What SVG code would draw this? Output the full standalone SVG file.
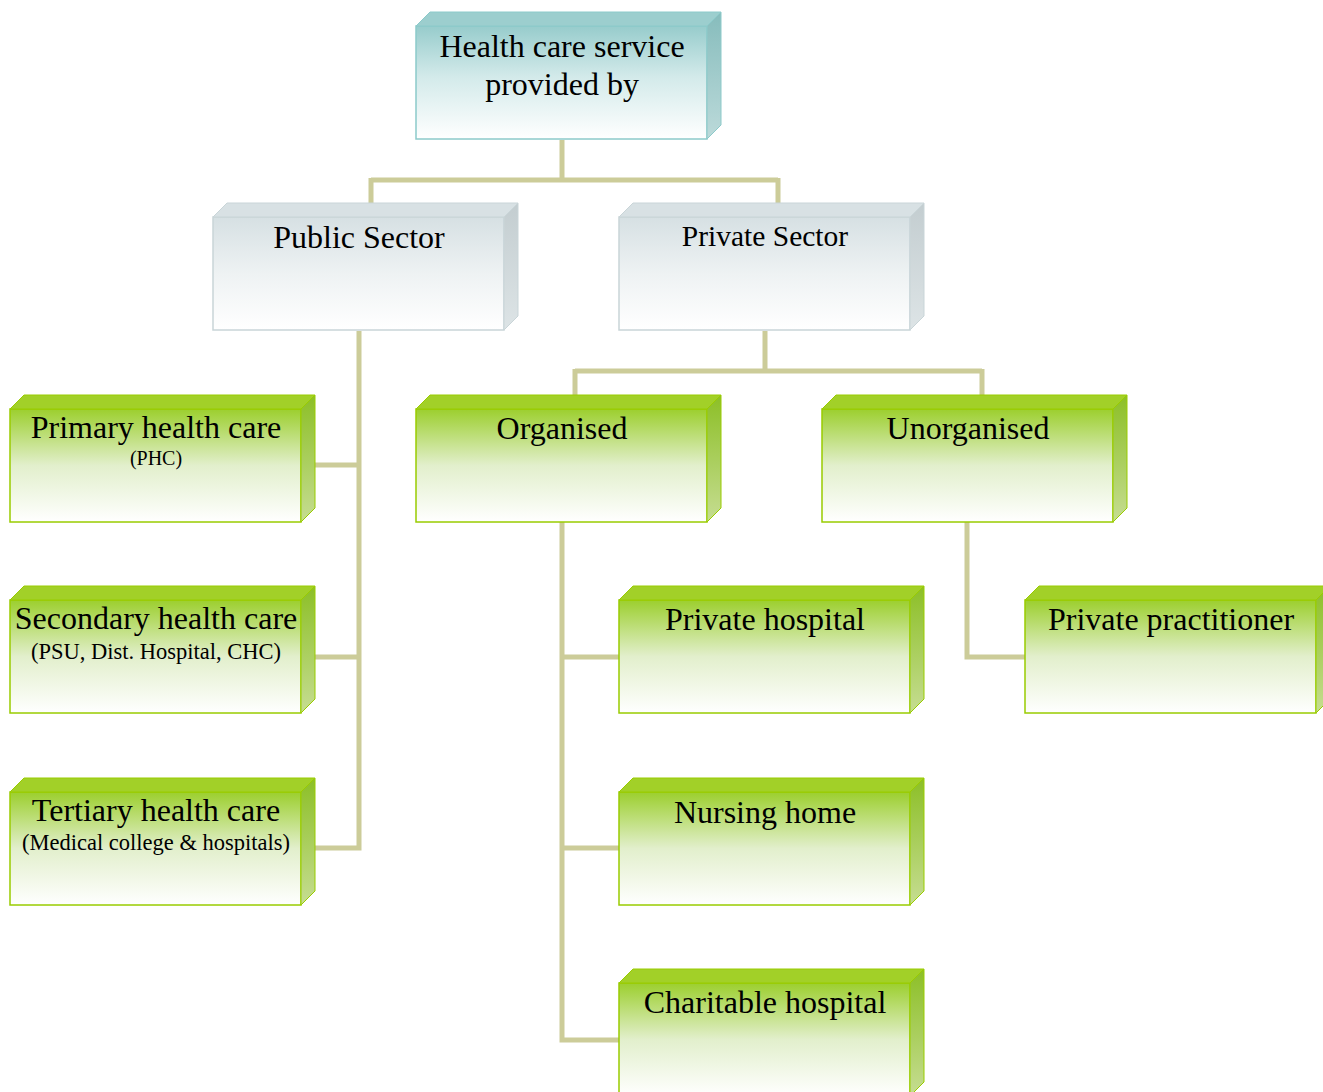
<svg xmlns="http://www.w3.org/2000/svg" width="1323" height="1092" viewBox="0 0 1323 1092">
  <defs>
    <!-- teal palette (root) -->
    <linearGradient id="tealFront" x1="0" y1="0" x2="0" y2="1">
      <stop offset="0" stop-color="#97cccc"/>
      <stop offset="0.45" stop-color="#d3eaea"/>
      <stop offset="1" stop-color="#ffffff"/>
    </linearGradient>
    <linearGradient id="tealSide" x1="0" y1="0" x2="0" y2="1">
      <stop offset="0" stop-color="#86bcbc"/>
      <stop offset="1" stop-color="#bcdada"/>
    </linearGradient>
    <!-- grey palette (sectors) -->
    <linearGradient id="greyFront" x1="0" y1="0" x2="0" y2="1">
      <stop offset="0" stop-color="#d6e0e3"/>
      <stop offset="0.5" stop-color="#eef2f3"/>
      <stop offset="1" stop-color="#ffffff"/>
    </linearGradient>
    <linearGradient id="greySide" x1="0" y1="0" x2="0" y2="1">
      <stop offset="0" stop-color="#c3cdd0"/>
      <stop offset="1" stop-color="#dde4e6"/>
    </linearGradient>
    <!-- green palette (facilities) -->
    <linearGradient id="greenFront" x1="0" y1="0" x2="0" y2="1">
      <stop offset="0" stop-color="#9ccf2e"/>
      <stop offset="0.5" stop-color="#e2efcc"/>
      <stop offset="1" stop-color="#ffffff"/>
    </linearGradient>
    <linearGradient id="greenSide" x1="0" y1="0" x2="0" y2="1">
      <stop offset="0" stop-color="#8cbf26"/>
      <stop offset="1" stop-color="#c6dd92"/>
    </linearGradient>
    <style>
      .front { stroke-width: 1.5; }
      .teal .front { fill: url(#tealFront); stroke: #8ccaca; }
      .teal .top { fill: #9ccece; stroke: #8ccaca; stroke-width: 1; }
      .teal .side { fill: url(#tealSide); stroke: #8ccaca; stroke-width: 1; }
      .grey .front { fill: url(#greyFront); stroke: #c9d5d8; }
      .grey .top { fill: #d8e1e4; stroke: #c9d5d8; stroke-width: 1; }
      .grey .side { fill: url(#greySide); stroke: #c9d5d8; stroke-width: 1; }
      .green .front { fill: url(#greenFront); stroke: #99cc00; }
      .green .top { fill: #a2d028; stroke: #99cc00; stroke-width: 1; }
      .green .side { fill: url(#greenSide); stroke: #99cc00; stroke-width: 1; }
      text { font-family: "Liberation Serif", "Times New Roman", serif; fill: #000; text-anchor: middle; }
      .t { font-size: 32px; }
      .t2 { font-size: 29.5px; }
      .s { font-size: 22.5px; }
      .xs { font-size: 20px; }
      .conn { fill: none; stroke: #cccc99; stroke-width: 5; }
    </style>
    <!-- 3D box: front face 291x113, depth 14 -->
    <polygon id="boxTop" points="0,14 14,0 305,0 291,14"/>
    <polygon id="boxSide" points="291,14 305,0 305,113 291,127"/>
  </defs>

  <!-- connectors -->
  <g id="connectors" class="conn">
    <path d="M562,140 V180 M371,180 H778 M371,178 V203 M778,178 V203"/>
    <path d="M315,465 H359 M315,657 H359 M359,331 V848 H315"/>
    <path d="M765,331 V371 M575,371 H982 M575,369 V395 M982,369 V395"/>
    <path d="M562,657 H619 M562,848 H619 M562,522 V1040 H619"/>
    <path d="M967,522 V657 H1025"/>
  </g>

  <g id="root" class="teal" transform="translate(416,12)">
    <rect class="front" x="0" y="14" width="291" height="113"/>
    <use href="#boxTop" class="top"/>
    <use href="#boxSide" class="side"/>
    <text class="t" x="146" y="45">Health care service</text>
    <text class="t" x="146" y="83">provided by</text>
  </g>

  <g id="public-sector" class="grey" transform="translate(213,203)">
    <rect class="front" x="0" y="14" width="291" height="113"/>
    <use href="#boxTop" class="top"/>
    <use href="#boxSide" class="side"/>
    <text class="t" x="146" y="45">Public Sector</text>
  </g>

  <g id="private-sector" class="grey" transform="translate(619,203)">
    <rect class="front" x="0" y="14" width="291" height="113"/>
    <use href="#boxTop" class="top"/>
    <use href="#boxSide" class="side"/>
    <text class="t2" x="146" y="43">Private Sector</text>
  </g>

  <g id="primary" class="green" transform="translate(10,395)">
    <rect class="front" x="0" y="14" width="291" height="113"/>
    <use href="#boxTop" class="top"/>
    <use href="#boxSide" class="side"/>
    <text class="t" x="146" y="43">Primary health care</text>
    <text class="xs" x="146" y="70">(PHC)</text>
  </g>

  <g id="organised" class="green" transform="translate(416,395)">
    <rect class="front" x="0" y="14" width="291" height="113"/>
    <use href="#boxTop" class="top"/>
    <use href="#boxSide" class="side"/>
    <text class="t" x="146" y="44">Organised</text>
  </g>

  <g id="unorganised" class="green" transform="translate(822,395)">
    <rect class="front" x="0" y="14" width="291" height="113"/>
    <use href="#boxTop" class="top"/>
    <use href="#boxSide" class="side"/>
    <text class="t" x="146" y="44">Unorganised</text>
  </g>

  <g id="secondary" class="green" transform="translate(10,586)">
    <rect class="front" x="0" y="14" width="291" height="113"/>
    <use href="#boxTop" class="top"/>
    <use href="#boxSide" class="side"/>
    <text class="t" x="146" y="43">Secondary health care</text>
    <text class="s" x="146" y="73">(PSU, Dist. Hospital, CHC)</text>
  </g>

  <g id="private-hospital" class="green" transform="translate(619,586)">
    <rect class="front" x="0" y="14" width="291" height="113"/>
    <use href="#boxTop" class="top"/>
    <use href="#boxSide" class="side"/>
    <text class="t" x="146" y="44">Private hospital</text>
  </g>

  <g id="private-practitioner" class="green" transform="translate(1025,586)">
    <rect class="front" x="0" y="14" width="291" height="113"/>
    <use href="#boxTop" class="top"/>
    <use href="#boxSide" class="side"/>
    <text class="t" x="146" y="44">Private practitioner</text>
  </g>

  <g id="tertiary" class="green" transform="translate(10,778)">
    <rect class="front" x="0" y="14" width="291" height="113"/>
    <use href="#boxTop" class="top"/>
    <use href="#boxSide" class="side"/>
    <text class="t" x="146" y="43">Tertiary health care</text>
    <text class="s" x="146" y="72">(Medical college &amp; hospitals)</text>
  </g>

  <g id="nursing-home" class="green" transform="translate(619,778)">
    <rect class="front" x="0" y="14" width="291" height="113"/>
    <use href="#boxTop" class="top"/>
    <use href="#boxSide" class="side"/>
    <text class="t" x="146" y="45">Nursing home</text>
  </g>

  <g id="charitable-hospital" class="green" transform="translate(619,969)">
    <rect class="front" x="0" y="14" width="291" height="113"/>
    <use href="#boxTop" class="top"/>
    <use href="#boxSide" class="side"/>
    <text class="t" x="146" y="44">Charitable hospital</text>
  </g>
</svg>
